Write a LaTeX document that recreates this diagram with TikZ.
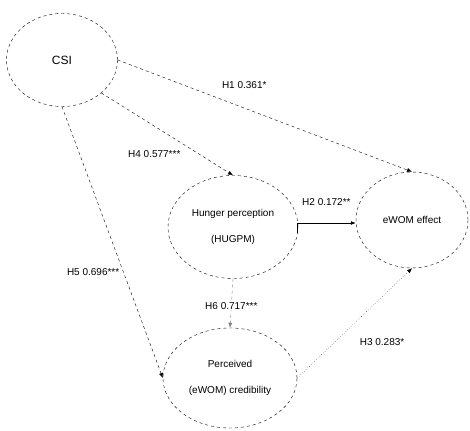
\documentclass[tikz,border=0pt]{standalone}
\usepackage{fontspec}
\setmainfont{Liberation Sans}
\usetikzlibrary{arrows.meta,shapes.geometric}
\begin{document}
\begin{tikzpicture}[x=1pt,y=-1pt,
  construct/.style={draw, dashed, ellipse, inner sep=0pt, font=\fontsize{10}{26}\selectfont, align=center},
  path/.style={draw, dashed, -{Latex[length=5pt,width=4pt]}},
  lbl/.style={font=\fontsize{10}{12}\selectfont, inner sep=1pt}]
\useasboundingbox (0,0) rectangle (470,430);
\node[construct, minimum width=111pt, minimum height=93pt, font=\fontsize{12}{14}\selectfont] (csi) at (62,60) {CSI};
\node[construct, minimum width=130pt, minimum height=103pt] (hun) at (233,227) {Hunger perception\\(HUGPM)};
\node[construct, minimum width=112pt, minimum height=96pt] (ewom) at (412,220) {eWOM effect};
\node[construct, minimum width=134pt, minimum height=100pt] (per) at (230,378) {Perceived\\(eWOM) credibility};
\coordinate (h2a) at (297,233);
\coordinate (h2b) at (297,223);
\draw[path] (csi.east) -- (ewom.north) node[lbl, pos=0.43, above=18pt] (l1) {H1 0.361*};
\draw[path] (csi.south east) -- (hun.north) node[lbl, pos=0.64, anchor=east, xshift=-4pt, yshift=-8pt] (l4) {H4 0.577***};
\draw[path] (csi.south) -- (per.west) node[lbl, pos=0.6, left=2pt, yshift=-3pt] (l5) {H5 0.696***};
\draw[thick, -{Latex[length=5pt,width=4pt]}] (h2a) -- (h2b) -- (ewom.west |- h2b) node[lbl, pos=0.5, above=16pt] (l2) {H2 0.172**};
\draw[path, gray, dashed] (hun.south) -- (per.north) node[lbl, black, fill=white, pos=0.55] (l6) {H6 0.717***};
\draw[path, dotted] (per.east) -- (ewom.south) node[lbl, pos=0.5, anchor=north west, xshift=4pt, yshift=-14pt] (l3) {H3 0.283*};
\end{tikzpicture}
\end{document}
